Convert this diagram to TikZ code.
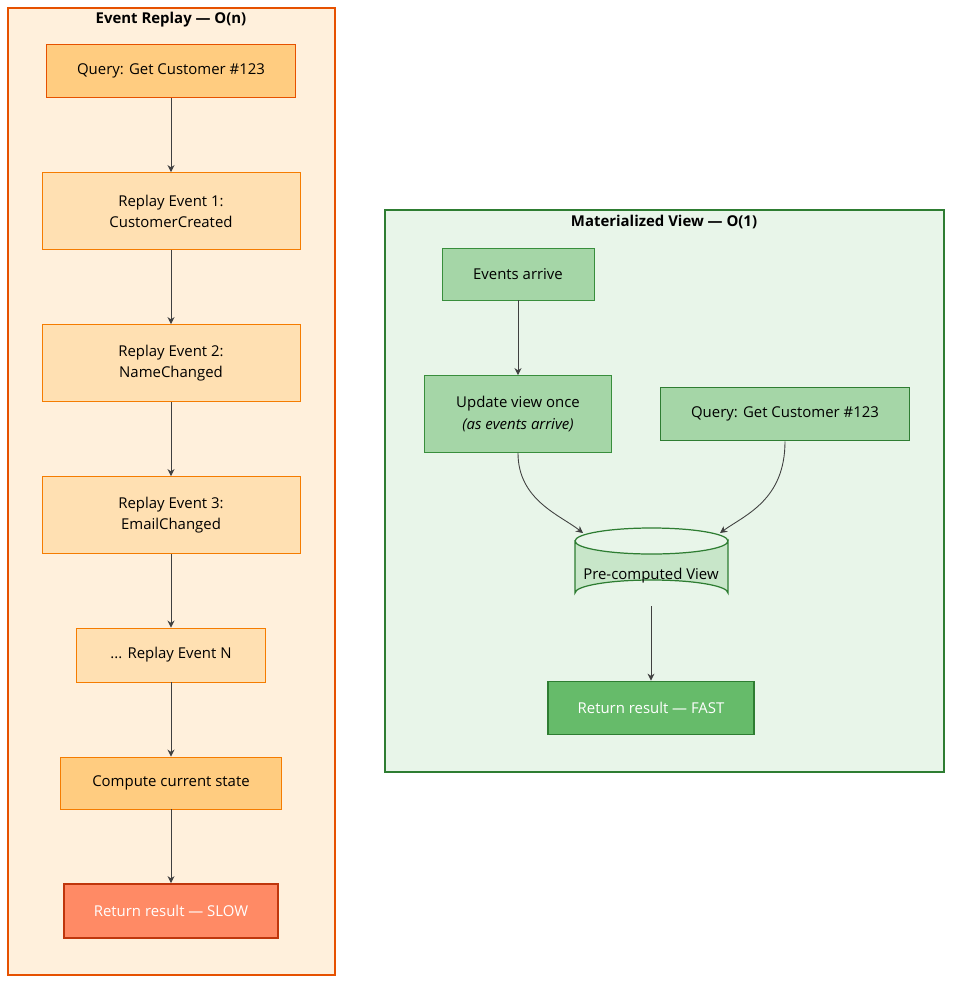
\documentclass[tikz,border=0pt]{standalone}
\usepackage{fontspec}
\setmainfont{Open Sans}
\usetikzlibrary{arrows.meta}
\definecolor{orgfill}{HTML}{FFF0DC}
\definecolor{orgline}{HTML}{E65100}
\definecolor{orgmid}{HTML}{F57C00}
\definecolor{orgbox}{HTML}{FFE0B2}
\definecolor{orgdark}{HTML}{FFCC80}
\definecolor{slowfill}{HTML}{FF8A65}
\definecolor{slowline}{HTML}{BF360C}
\definecolor{grnfill}{HTML}{E8F5E9}
\definecolor{grnline}{HTML}{2E7D32}
\definecolor{grnbox}{HTML}{A5D6A7}
\definecolor{grnmid}{HTML}{388E3C}
\definecolor{grnlight}{HTML}{C8E6C9}
\definecolor{grnfast}{HTML}{66BB6A}
\tikzset{
  every node/.style={font=\fontsize{8.5}{12}\selectfont, align=center, inner sep=0pt},
  replay/.style={draw=orgmid, fill=orgbox, line width=0.5pt},
  key/.style={draw=orgline, fill=orgdark, line width=1pt},
  gstep/.style={draw=grnmid, fill=grnbox, line width=0.5pt},
  link/.style={-{Stealth[length=4pt,width=4pt]}, draw=black!75, line width=0.5pt}
}
\begin{document}
\begin{tikzpicture}[x=0.02cm,y=-0.02cm]
	\useasboundingbox (0,0) rectangle (960,991);
	% event replay side
	\draw[orgline, fill=orgfill, line width=1.2pt] (8,8) rectangle (335,975);
	\node[font=\fontsize{8.5}{10}\selectfont\bfseries] (lt) at (171,20) {Event Replay — O(n)};
	\node[key, minimum width=4.98cm, minimum height=1.06cm] (q1) at (171,71) {Query: Get Customer \#123};
	\node[replay, minimum width=5.16cm, minimum height=1.54cm] (e1) at (171,211) {Replay Event 1:\\CustomerCreated};
	\node[replay, minimum width=5.16cm, minimum height=1.54cm] (e2) at (171,363) {Replay Event 2:\\NameChanged};
	\node[replay, minimum width=5.16cm, minimum height=1.54cm] (e3) at (171,515) {Replay Event 3:\\EmailChanged};
	\node[replay, minimum width=3.78cm, minimum height=1.08cm] (en) at (171,655) {... Replay Event N};
	\node[replay, fill=orgdark, minimum width=4.42cm, minimum height=1.04cm] (cs) at (171,783) {Compute current state};
	\node[draw=slowline, fill=slowfill, line width=1pt, text=white, minimum width=4.28cm, minimum height=1.08cm] (slow) at (171,911) {Return result — SLOW};
	\foreach \a/\b in {q1/e1, e1/e2, e2/e3, e3/en, en/cs, cs/slow}
		\draw[link] (\a) -- (\b);
	% materialized view side
	\draw[grnline, fill=grnfill, line width=1.2pt] (385,210) rectangle (944,772);
	\node[font=\fontsize{8.5}{10}\selectfont\bfseries] (rt) at (664,222) {Materialized View — O(1)};
	\node[gstep, minimum width=3.04cm, minimum height=1.04cm] (ev) at (518,274) {Events arrive};
	\node[gstep, minimum width=3.74cm, minimum height=1.54cm] (up) at (518,414) {Update view once\\\textit{(as events arrive)}};
	\node[draw=grnline, fill=grnbox, line width=1pt, minimum width=4.98cm, minimum height=1.06cm] (q2) at (785,414) {Query: Get Customer \#123};
	\draw[grnline, fill=grnlight, line width=0.7pt] (575,541) -- (575,593) arc[start angle=180, end angle=360, x radius=76.5, y radius=13] -- (728,541) arc[start angle=0, end angle=180, x radius=76.5, y radius=13] -- cycle;
	\draw[grnline, line width=0.7pt] (575,541) arc[start angle=180, end angle=360, x radius=76.5, y radius=13];
	\node (db) at (651,576) {Pre-computed View};
	\coordinate (dbl) at (583,533);
	\coordinate (dbr) at (720,533);
	\coordinate (dbb) at (651,606);
	\node[draw=grnline, fill=grnfast, line width=1pt, text=white, minimum width=4.12cm, minimum height=1.06cm] (fast) at (651,708) {Return result — FAST};
	\draw[link] (ev) -- (up);
	\draw[link] (up.south) .. controls (518,500) and (560,515) .. (dbl);
	\draw[link] (q2.south) .. controls (785,500) and (745,515) .. (dbr);
	\draw[link] (dbb) -- (fast);
\end{tikzpicture}
\end{document}
